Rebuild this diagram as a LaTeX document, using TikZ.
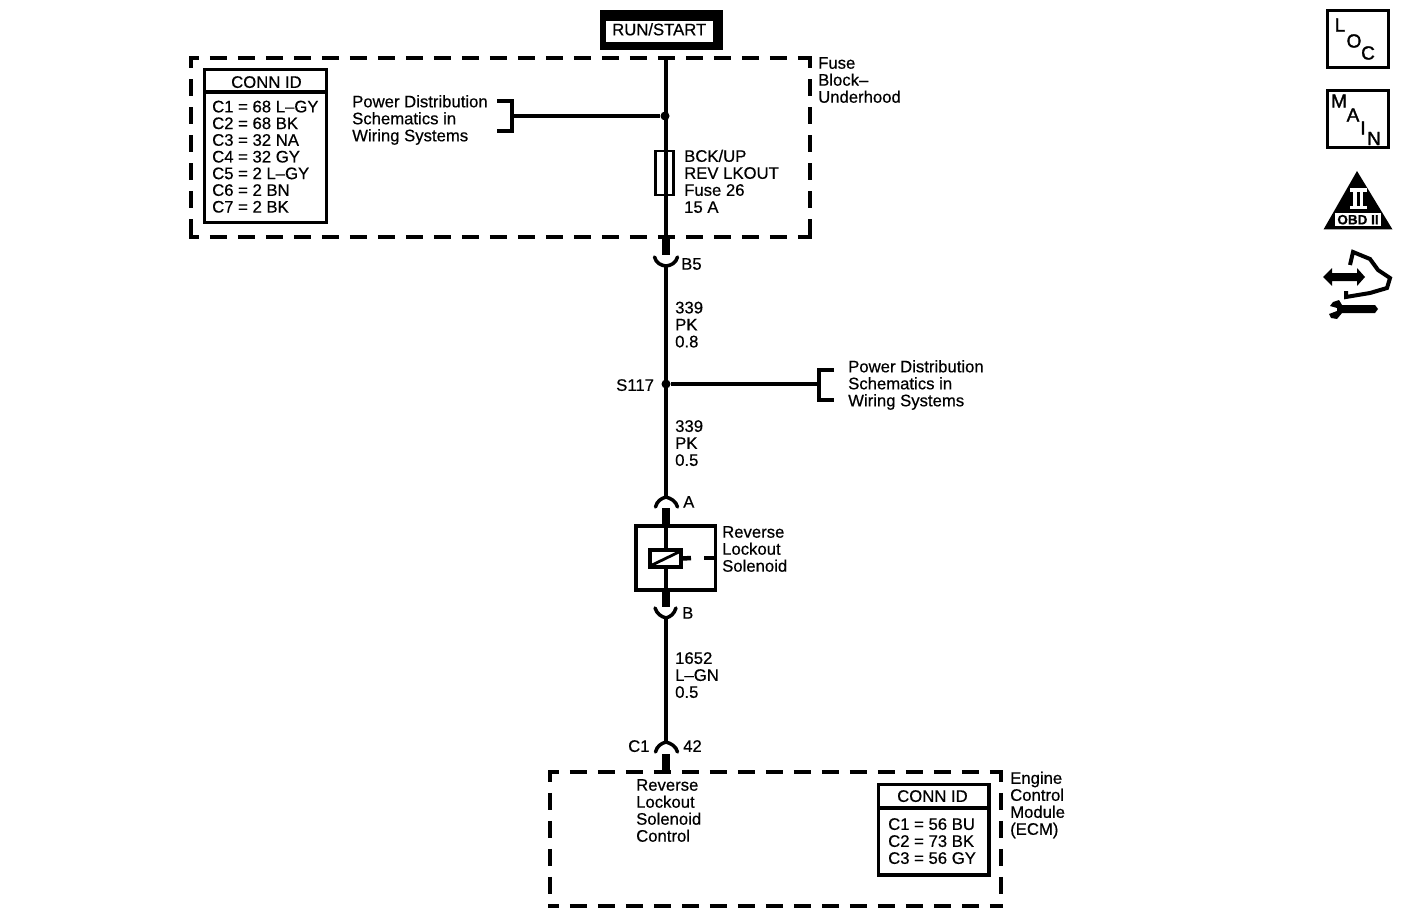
\documentclass[tikz,border=0pt]{standalone}
\usepackage{fontspec}
\setmainfont[FakeBold=0.5]{Liberation Sans}
\newfontfamily\iconfont[FakeBold=1.6]{Liberation Sans}
\usetikzlibrary{calc}
\tikzset{
  txt/.style={font=\fontsize{16.7}{17}\selectfont, align=left, inner sep=0pt, anchor=north west, text depth=0pt},
  dashbox/.style={draw=black, line width=3.5pt, dash pattern=on 17pt off 11pt},
  wire/.style={draw=black, line width=3.5pt},
  stub/.style={draw=black, line width=7.5pt},
  term/.style={draw=black, line width=3.5pt, line cap=round},
  boxline/.style={draw=black, line width=3.5pt},
  dot/.style={circle, fill=black, inner sep=0pt, minimum size=9pt},
  icon/.style={font=\iconfont\fontsize{19}{19}\selectfont, inner sep=0pt},
}
\begin{document}
\begin{tikzpicture}[x=1pt,y=-1pt]
\useasboundingbox (0,0) rectangle (1408,920);
\fill[white] (0,0) rectangle (1408,920);
% run/start
\fill[black] (600,10) rectangle (722.5,50);
\fill[white] (606,21) rectangle (713,42);
\node[txt] (run) at (612,23) {RUN/START};
% dashed boxes
\draw[dashbox,dash phase=7.5] (189.3,58) -- (812,58);
\draw[dashbox,dash phase=7.5] (189.3,237) -- (812,237);
\draw[dashbox,dash phase=5] (191,56.3) -- (191,239);
\draw[dashbox,dash phase=5] (810,56.3) -- (810,239);
\draw[dashbox,dash phase=6.5] (548.3,772) -- (1003,772);
\draw[dashbox,dash phase=6.5] (548.3,906) -- (1003,906);
\draw[dashbox,dash phase=5.5] (550,770.3) -- (550,908);
\draw[dashbox,dash phase=5.5] (1001,770.3) -- (1001,908);
\node[txt] (fbl) at (818,57) {Fuse\\Block–\\Underhood};
\node[txt] (ecml) at (1010,771.5) {Engine\\Control\\Module\\(ECM)};
% conn id tables
\draw[boxline] (204.5,69.5) rectangle (326.5,222.5);
\draw[boxline] (204.5,92) -- (326.5,92);
\node[txt] (c1h) at (231,76) {CONN ID};
\node[txt,font=\fontsize{16.7}{16.7}\selectfont] (c1t) at (212,100.5) {C1 = 68 L–GY\\C2 = 68 BK\\C3 = 32 NA\\C4 = 32 GY\\C5 = 2 L–GY\\C6 = 2 BN\\C7 = 2 BK};
\draw[boxline] (878.5,784.5) rectangle (989,875);
\draw[boxline] (878.5,808) -- (989,808);
\node[txt] (c2h) at (897,790) {CONN ID};
\node[txt] (c2t) at (888,818) {C1 = 56 BU\\C2 = 73 BK\\C3 = 56 GY};
% power distribution
\coordinate (top) at (666,58);
\node[dot] (j1) at (665,116) {};
\node[dot] (s117) at (666,384) {};
\coordinate (br1) at (512,116);
\coordinate (br2) at (819,384);
\draw[wire] (j1) -- (br1);
\draw[wire,line cap=butt] (497,101) -- (512,101) -- (512,131) -- (497,131);
\node[txt] (pd1) at (352,95) {Power Distribution\\Schematics in\\Wiring Systems};
\draw[wire] (s117) -- (br2);
\draw[wire] (834,370) -- (819,370) -- (819,400) -- (834,400);
\node[txt] (pd2) at (848,360) {Power Distribution\\Schematics in\\Wiring Systems};
% fuse
\node[draw=black, line width=2.8pt, minimum width=18pt, minimum height=44pt, inner sep=0pt] (fuse) at (664.5,173) {};
\node[txt] (fl) at (684,149.5) {BCK/UP\\REV LKOUT\\Fuse 26\\15 A};
% connectors
\coordinate (b5a) at (666,238); \coordinate (b5b) at (666,255);
\coordinate (b5c) at (666,266);
\coordinate (aa) at (666,497); \coordinate (ab) at (666,508); \coordinate (ac) at (666,525);
\coordinate (ba) at (666,592); \coordinate (bb) at (666,607); \coordinate (bc) at (666,618);
\coordinate (ca) at (666,742); \coordinate (cb) at (666,754); \coordinate (cc) at (666,772);
\draw[wire] (top) -- (b5a);
\draw[stub] (b5a) -- (b5b);
\draw[term] (654.5,257) .. controls (656,263) and (661,265.5) .. (b5c) .. controls (671,265.5) and (676,263) .. (677.5,257);
\draw[wire] (b5c) -- (aa);
\draw[term] (655.5,507) .. controls (657,501) and (661,498.5) .. (aa) .. controls (671,498.5) and (676,501) .. (677.5,507);
\draw[stub] (ab) -- (ac);
\draw[stub] (ba) -- (bb);
\draw[term] (655,608) .. controls (657,614) and (661,616.5) .. (bc) .. controls (671,616.5) and (674,614) .. (676,608);
\draw[wire] (bc) -- (ca);
\draw[term] (655.5,752) .. controls (657,746) and (661,743.5) .. (ca) .. controls (671,743.5) and (676,746) .. (677.5,752);
\draw[stub] (cb) -- (cc);
\node[txt] (lb5) at (681,258) {B5};
\node[txt] (w1) at (675,301.5) {339\\PK\\0.8};
\node[txt] (ls) at (616,379) {S117};
\node[txt] (w2) at (675,420) {339\\PK\\0.5};
\node[txt] (la) at (683,496) {A};
\node[txt] (lb) at (682,607) {B};
\node[txt] (w3) at (675,652) {1652\\L–GN\\0.5};
\node[txt] (lc1) at (628,740) {C1};
\node[txt] (l42) at (683,740) {42};
\node[txt] (ctl) at (636,779) {Reverse\\Lockout\\Solenoid\\Control};
% solenoid
\draw[boxline] (636,526) rectangle (715.5,590);
\draw[wire] (ac) -- (ba);
\node[draw=black, fill=white, line width=4pt, minimum width=31pt, minimum height=17pt, inner sep=0pt] (coil) at (665.5,558.5) {};
\draw[black, line width=2.8pt] (650,566) -- (681,551);
\coordinate (s1) at (691,558); \coordinate (s2) at (704,558); \coordinate (s3) at (716,558);
\draw[black, line width=4.5pt] (coil.east) -- (s1);
\draw[black, line width=4.5pt] (s2) -- (s3);
\node[txt] (sl) at (722,526) {Reverse\\Lockout\\Solenoid};
% LOC
\draw[black, line width=3.5pt] (1327.5,10.5) rectangle (1388.5,67.5);
\node[icon] (l1) at (1340,25) {L};
\node[icon] (l2) at (1354,41) {O};
\node[icon] (l3) at (1368,53) {C};
% MAIN
\draw[black, line width=3.5pt] (1327.5,90.5) rectangle (1388.5,147.5);
\node[icon] (m1) at (1339,101) {M};
\node[icon] (m2) at (1353,115) {A};
\node[icon] (m3) at (1363,128) {I};
\node[icon] (m4) at (1374,138.5) {N};
% OBD
\fill[black] (1357,171) -- (1392.5,229.5) -- (1323.5,229.5) -- cycle;
\fill[white] (1349.5,188) rectangle (1367,192);
\fill[white] (1349.5,206) rectangle (1367,209.5);
\fill[white] (1353,192) rectangle (1356.5,206);
\fill[white] (1359.5,192) rectangle (1363,206);
\fill[white] (1335,213) rectangle (1381,226);
\node[inner sep=0pt, font=\fontsize{13.5}{13}\selectfont\bfseries] (obd) at (1358,219.7) {OBD II};
% service
\fill[black] (1323,277) -- (1332,268) -- (1332,273) -- (1357,273) -- (1357,268) -- (1365,277) -- (1357,286) -- (1357,281) -- (1332,281) -- (1332,286) -- cycle;
\draw[black, line width=4pt] (1350,265) -- (1353,252) -- (1370,259) -- (1378,270) -- (1390,278) -- (1387,288) -- (1370,293) -- (1346,297) -- (1346,291);
\fill[black] (1342,305) -- (1375,305) -- (1378,309) -- (1375,313) -- (1342,313) -- (1337,319) -- (1331,318) -- (1329,314) -- (1337,311) -- (1337,308) -- (1330,306) -- (1333,302) -- (1339,300) -- cycle;
\end{tikzpicture}
\end{document}
